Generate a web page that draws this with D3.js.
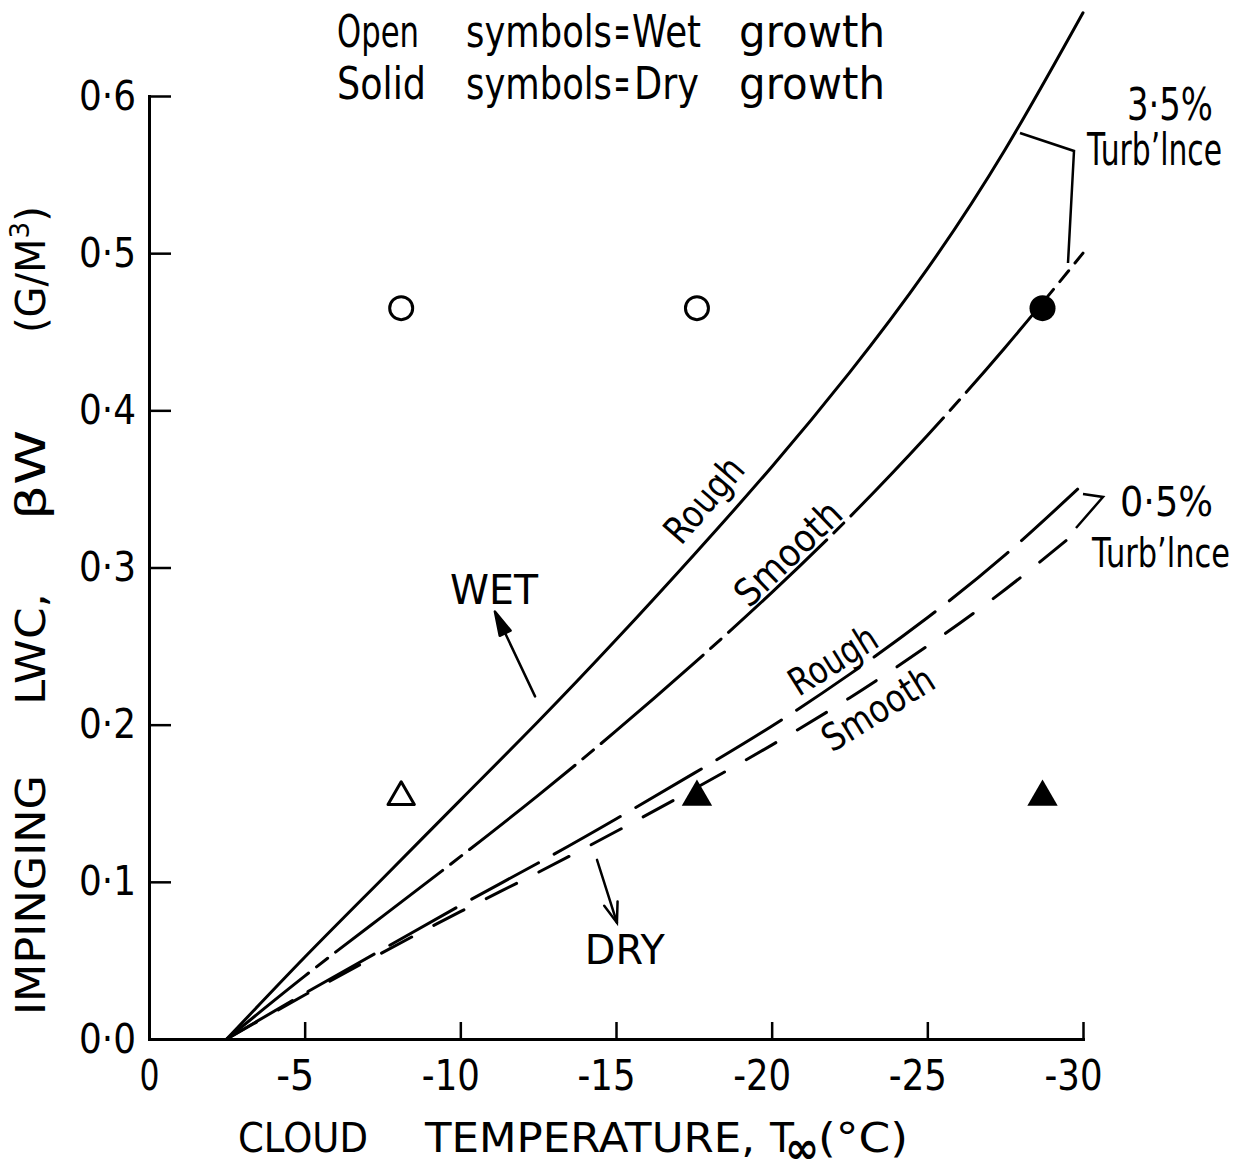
<!DOCTYPE html>
<html>
<head>
<meta charset="utf-8">
<script src="https://cdn.jsdelivr.net/npm/d3@7"></script>
<style>
  html, body { margin: 0; padding: 0; background: #fff; }
  svg { display: block; }
  text { font-family: "DejaVu Sans", "Liberation Sans", sans-serif; fill: #000; }
</style>
</head>
<body>
<svg id="chart" width="1246" height="1167"></svg>
<script>
// Cloud temperature (°C) at which each limit curve is sampled
const temps = [-2.5, -5, -7.5, -10, -12.5, -15, -17.5, -20, -22.5, -25, -27.5, -30];

// Impinging LWC (g/m³) on the wet/dry growth boundary
const wetRough   = [0, 0.052, 0.102, 0.152, 0.202, 0.254, 0.308, 0.364, 0.424, 0.490, 0.566, 0.653]; // 3.5% turbulence, rough
const wetSmooth  = [0, 0.040, 0.078, 0.116, 0.155, 0.196, 0.239, 0.284, 0.332, 0.384, 0.440, 0.500]; // 3.5% turbulence, smooth
const dryRough   = [0, 0.029, 0.057, 0.085, 0.112, 0.140, 0.169, 0.199, 0.232, 0.268, 0.308, 0.353]; // 0.5% turbulence, rough
const drySmooth  = [0, 0.028, 0.055, 0.081, 0.106, 0.132, 0.159, 0.187, 0.217, 0.250, 0.286, 0.326]; // 0.5% turbulence, smooth

// Test points: circles and triangles, open = wet growth, solid = dry growth
const circleTemps  = [-8.1, -17.6, -28.7];
const circleLwc    = [0.465, 0.465, 0.465];
const circleGrowth = ["wet", "wet", "dry"];
const triTemps     = [-8.1, -17.6, -28.7];
const triLwc       = [0.154, 0.154, 0.154];
const triGrowth    = ["wet", "dry", "dry"];

// Axis ticks
const xTicks = [0, -5, -10, -15, -20, -25, -30];
const xTickLabels = ["0", "-5", "-10", "-15", "-20", "-25", "-30"];
const yTicks = [0, 0.1, 0.2, 0.3, 0.4, 0.5, 0.6];
const yTickLabels = ["0·0", "0·1", "0·2", "0·3", "0·4", "0·5", "0·6"];

const svg = d3.select("#chart");
const x = d3.scaleLinear().domain([0, -30]).range([149, 1083]);
const y = d3.scaleLinear().domain([0, 0.6]).range([1039, 96]);

// small helper for lettering, squeezed to a fixed width when asked
function letter(parent, str, px, py, o = {}) {
  const t = parent.append("text")
    .attr("transform", `translate(${px},${py}) rotate(${o.rot || 0})`)
    .attr("font-size", o.size || 38)
    .attr("text-anchor", o.anchor || "start")
    .text(str);
  if (o.len) t.attr("textLength", o.len).attr("lengthAdjust", "spacingAndGlyphs");
  if (o.mid) t.attr("dominant-baseline", "central");
  return t;
}

// ---- axes ----
const gy = svg.append("g").attr("transform", `translate(${x(0)},0)`)
  .call(d3.axisLeft(y).tickValues(yTicks).tickSize(-22).tickSizeOuter(0).tickPadding(13)
    .tickFormat((d, i) => yTickLabels[i]));
const gx = svg.append("g").attr("transform", `translate(0,${y(0)})`)
  .call(d3.axisBottom(x).tickValues(xTicks).tickSize(-17).tickSizeOuter(0).tickPadding(20)
    .tickFormat((d, i) => xTickLabels[i]));

[gx, gy].forEach(g => {
  g.select(".domain").attr("stroke", "#000").attr("stroke-width", 3).attr("stroke-linecap", "square");
  g.selectAll(".tick line").attr("stroke", "#000").attr("stroke-width", 2.5);
  g.selectAll(".tick text").attr("font-family", "DejaVu Sans, sans-serif").attr("fill", "#000");
});
gy.selectAll(".tick text").attr("font-size", 41).attr("textLength", 57).attr("lengthAdjust", "spacingAndGlyphs");
gx.selectAll(".tick text").attr("font-size", 43)
  .attr("dx", d => d === 0 ? 0 : -10)
  .attr("textLength", d => d === 0 ? 20 : (d === -5 ? 38 : 58))
  .attr("lengthAdjust", "spacingAndGlyphs");

// ---- axis titles ----
const title = svg.append("g");
// x title
letter(title, "CLOUD", 238, 1152, { size: 40, len: 130 });
letter(title, "TEMPERATURE,", 425, 1152, { size: 40, len: 330 });
letter(title, "T", 770, 1152, { size: 40, len: 24 });
letter(title, "∞", 785, 1163, { size: 44, len: 34 }).attr("font-weight", "bold");
letter(title, "(°C)", 818, 1152, { size: 40, len: 90 });

// y title (reads bottom to top)
letter(title, "IMPINGING", 45, 1015, { rot: -90, size: 40, len: 240 });
letter(title, "LWC,", 45, 705, { rot: -90, size: 40, len: 112 });
letter(title, "βW", 45, 520, { rot: -90, size: 40, len: 90 });
const gm = letter(title, "(G/M", 45, 333, { rot: -90, size: 40 });
gm.append("tspan").attr("font-size", 26).attr("dy", -16).text("3");
gm.append("tspan").attr("dy", 16).text(")");

// ---- legend note ----
const note = svg.append("g");
[["Open", 337, 82], ["symbols", 466, 146], ["=", 614, 16], ["Wet", 632, 69], ["growth", 739, 146]]
  .forEach(([w, px, len]) => letter(note, w, px, 47, { size: 44, len }));
[["Solid", 337, 89], ["symbols", 466, 146], ["=", 614, 16], ["Dry", 634, 65], ["growth", 739, 146]]
  .forEach(([w, px, len]) => letter(note, w, px, 99, { size: 44, len }));

// ---- limit curves ----
const line = d3.line()
  .x((d, i) => x(temps[i]))
  .y(d => y(d))
  .curve(d3.curveNatural);

const curves = svg.append("g").attr("fill", "none").attr("stroke", "#000")
  .attr("stroke-width", 3).attr("stroke-linecap", "round");
curves.append("path").attr("d", line(wetRough));
curves.append("path").attr("d", line(wetSmooth))
  .attr("stroke-dasharray", "135 10 14 10").attr("stroke-dashoffset", 30);
curves.append("path").attr("d", line(dryRough))
  .attr("stroke-dasharray", "76 18");
curves.append("path").attr("d", line(drySmooth))
  .attr("stroke-dasharray", "34 25");

// ---- test points ----
const pts = svg.append("g");
pts.selectAll("circle").data(circleTemps).join("circle")
  .attr("cx", d => x(d))
  .attr("cy", (d, i) => y(circleLwc[i]))
  .attr("r", (d, i) => circleGrowth[i] === "wet" ? 11.5 : 13)
  .attr("fill", (d, i) => circleGrowth[i] === "wet" ? "#fff" : "#000")
  .attr("stroke", "#000")
  .attr("stroke-width", (d, i) => circleGrowth[i] === "wet" ? 3 : 0);

const tri = d3.symbol().type(d3.symbolTriangle);
pts.selectAll("path.tri").data(triTemps).join("path")
  .attr("class", "tri")
  .attr("d", (d, i) => tri.size(triGrowth[i] === "wet" ? 300 : 400)())
  .attr("transform", (d, i) => `translate(${x(d)},${y(triLwc[i])})`)
  .attr("fill", (d, i) => triGrowth[i] === "wet" ? "#fff" : "#000")
  .attr("stroke", "#000")
  .attr("stroke-width", (d, i) => triGrowth[i] === "wet" ? 3 : 0)
  .attr("stroke-linejoin", "round");

// ---- curve labels ----
const lab = svg.append("g");
letter(lab, "Rough", x(-17.83), y(0.343), { rot: -49, size: 38, len: 100, anchor: "middle", mid: true });
letter(lab, "Smooth", x(-20.53), y(0.309), { rot: -44, size: 38, len: 133, anchor: "middle", mid: true });
letter(lab, "Rough", x(-21.97), y(0.241), { rot: -32, size: 38, len: 97, anchor: "middle", mid: true });
letter(lab, "Smooth", x(-23.42), y(0.210), { rot: -32, size: 38, len: 125, anchor: "middle", mid: true });

// WET / DRY pointers
letter(lab, "WET", x(-9.67), y(0.277), { size: 40, len: 88 });
letter(lab, "DRY", x(-14.0), y(0.048), { size: 40, len: 80 });

const arrow = svg.append("g").attr("stroke", "#000").attr("stroke-width", 2.5)
  .attr("fill", "none").attr("stroke-linecap", "round");
// WET arrow with a filled head
{
  const x0 = x(-12.40), y0 = y(0.218), x1 = x(-11.11), y1 = y(0.272);
  const a = Math.atan2(y1 - y0, x1 - x0), L = 24, W = 6;
  arrow.append("line").attr("x1", x0).attr("y1", y0).attr("x2", x1 - Math.cos(a) * 10).attr("y2", y1 - Math.sin(a) * 10);
  const bx = x1 - Math.cos(a) * L, by = y1 - Math.sin(a) * L;
  arrow.append("path")
    .attr("d", `M${x1},${y1}L${bx - Math.sin(a) * W},${by + Math.cos(a) * W}L${bx + Math.sin(a) * W},${by - Math.cos(a) * W}Z`)
    .attr("fill", "#000").attr("stroke-linejoin", "round");
}
// DRY arrow with an open head
{
  const x0 = x(-14.39), y0 = y(0.114), x1 = x(-15.03), y1 = y(0.074);
  const a = Math.atan2(y1 - y0, x1 - x0), L = 20, W = 7;
  arrow.append("line").attr("x1", x0).attr("y1", y0).attr("x2", x1).attr("y2", y1);
  const bx = x1 - Math.cos(a) * L, by = y1 - Math.sin(a) * L;
  arrow.append("path")
    .attr("d", `M${bx - Math.sin(a) * W},${by + Math.cos(a) * W}L${x1},${y1}L${bx + Math.sin(a) * W},${by - Math.cos(a) * W}`);
}

// ---- turbulence brackets ----
const br = svg.append("g").attr("stroke", "#000").attr("stroke-width", 2.5).attr("fill", "none");
br.append("path").attr("d", "M1020,133L1074,151L1068,263");
br.append("path").attr("d", "M1083,494L1103,497L1076,528");
letter(svg, "3·5%", 1127, 120, { size: 44, len: 86 });
letter(svg, "Turb\u2019lnce", 1087, 165, { size: 44, len: 135 });
letter(svg, "0·5%", 1120, 516, { size: 40, len: 93 });
letter(svg, "Turb\u2019lnce", 1092, 567, { size: 40, len: 138 });
</script>
</body>
</html>
